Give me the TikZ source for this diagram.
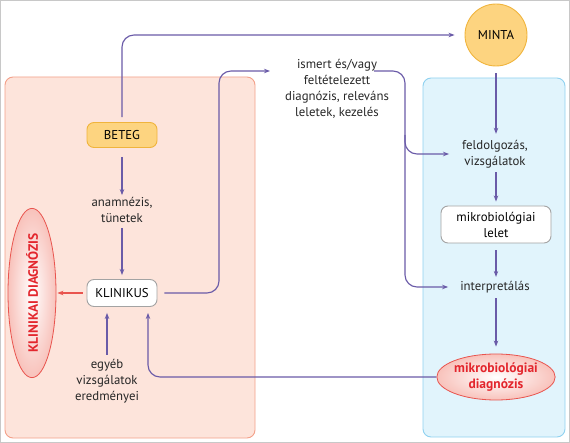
\documentclass[tikz,border=0pt]{standalone}
\usepackage{fontspec}
\setmainfont{PT Sans}
\usetikzlibrary{shapes.geometric,arrows.meta,calc}
\definecolor{arr}{HTML}{6A5BA8}
\definecolor{pinkfill}{HTML}{FDE4DB}
\definecolor{pinkdraw}{HTML}{F3A089}
\definecolor{bluefill}{HTML}{E1F4FC}
\definecolor{bluedraw}{HTML}{8FD1F0}
\definecolor{yelfill}{HTML}{FDD480}
\definecolor{yeldraw}{HTML}{F0B43C}
\definecolor{redtxt}{HTML}{E3262D}
\definecolor{reddraw}{HTML}{E9544E}
\definecolor{ellout}{HTML}{F8C2BB}
\definecolor{boxgray}{HTML}{A3A3A3}
\definecolor{framegray}{HTML}{C8C8C8}
\begin{document}
\begin{tikzpicture}[x=1pt,y=-1pt,
  font=\fontsize{12.8}{16}\selectfont,
  flow/.style={draw=arr,line width=1.15pt,-{Stealth[length=6pt,width=4.5pt]},rounded corners=12pt},
  redflow/.style={draw=reddraw,line width=1.15pt,-{Stealth[length=6pt,width=4.5pt]}},
  yelbox/.style={draw=yeldraw,fill=yelfill,line width=0.9pt,rounded corners=7pt,minimum width=70pt,minimum height=25pt,inner sep=0pt},
  whitebox/.style={draw=boxgray,fill=white,line width=0.9pt,rounded corners=7pt,inner sep=0pt},
  lbl/.style={align=center,inner sep=1pt,text=black!85},
  diagell/.style={ellipse,draw=reddraw,line width=0.8pt,inner color=white,outer color=ellout,text=redtxt,font=\fontsize{13.5}{16}\selectfont\bfseries,align=center,inner sep=0pt}
]
\useasboundingbox (0,0) rectangle (570,443);
\draw[framegray,line width=0.8pt] (0.5,0.5) rectangle (569.5,442.5);
% panels
\draw[pinkdraw,fill=pinkfill,line width=0.9pt,rounded corners=8pt] (5,77) rectangle (255,438);
\draw[bluedraw,fill=bluefill,line width=0.9pt,rounded corners=8pt] (423,78) rectangle (565,437);
% nodes
\node[yelbox] (beteg) at (122,135) {BETEG};
\node[circle,draw=yeldraw,fill=yelfill,line width=0.9pt,minimum size=62pt,inner sep=0pt] (minta) at (496,35) {MINTA};
\node[lbl] (ismert) at (337,89) {ismert és/vagy\\feltételezett\\diagnózis, releváns\\leletek, kezelés};
\node[lbl] (anam) at (122,210) {anamnézis,\\tünetek};
\node[whitebox,minimum width=70pt,minimum height=27pt] (klinikus) at (122,293) {KLINIKUS};
\node[diagell,rotate=90,minimum width=140pt,minimum height=48pt] (klindiag) at (32,293) {KLINIKAI DIAGNÓZIS};
\node[lbl] (egyeb) at (107,381) {egyéb\\vizsgálatok\\eredményei};
\node[lbl] (feld) at (495,154) {feldolgozás,\\vizsgálatok};
\node[whitebox,minimum width=110pt,minimum height=37pt,align=center] (lelet) at (496,224.5) {mikrobiológiai\\lelet};
\node[lbl] (interp) at (495,287) {interpretálás};
\node[diagell,minimum width=106pt,minimum height=46pt] (mdiag) at (496,377) {mikrobiológiai\\diagnózis};
% helper coordinates
\coordinate (ktop) at (219,71);
\coordinate (kend) at (270,71);
\coordinate (istart) at (374,71);
\coordinate (ivert) at (405,71);
\coordinate (branch) at (405,135);
\coordinate (kback) at (148,313);
% connectors
\draw[flow,shorten <=5pt,shorten >=10pt] (beteg.north) |- (minta.west);
\draw[flow,shorten <=7pt,shorten >=5pt] (minta.south) -- (minta.south |- feld.north);
\draw[flow,shorten <=3pt,shorten >=4pt] (feld.south -| lelet.north) -- (lelet.north);
\draw[flow,shorten <=7pt,shorten >=3pt] (lelet.south) -- (lelet.south |- interp.north);
\draw[flow,shorten <=4pt,shorten >=7pt] (interp.south -| mdiag.north) -- (mdiag.north);
\draw[flow,shorten <=9pt,shorten >=1pt] (beteg.south) -- (anam.north);
\draw[flow,shorten <=4pt,shorten >=4pt] (anam.south) -- (klinikus.north);
\draw[redflow,shorten <=4pt,shorten >=1pt] (klinikus.west) -- (klindiag.south);
\draw[flow,shorten <=3pt,shorten >=6pt] (egyeb.north) -- (egyeb.north |- klinikus.south);
\draw[flow] (mdiag.west) -| (kback);
\draw[flow,shorten <=7pt] (klinikus.east) -| (ktop) -- (kend);
\draw[flow,shorten >=11pt] (istart) -- (ivert) |- (interp.west);
\draw[flow,shorten >=12pt] (branch) |- (feld.west);
\end{tikzpicture}
\end{document}
